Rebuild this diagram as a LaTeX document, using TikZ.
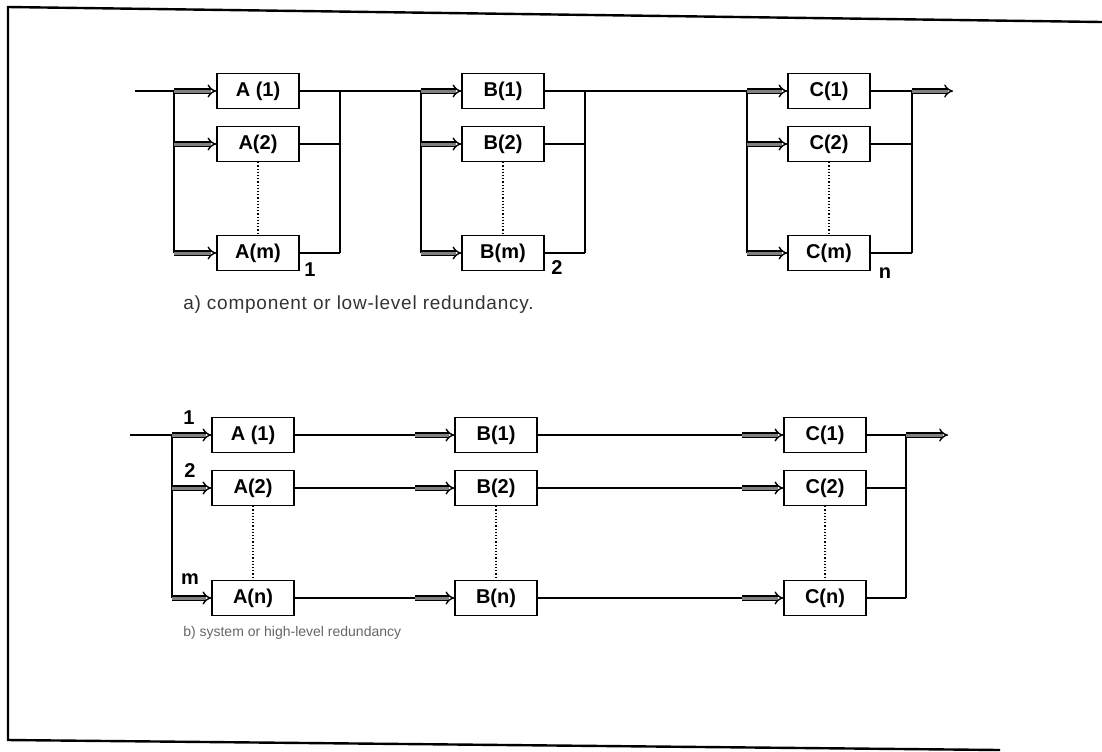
\documentclass[tikz,border=0pt]{standalone}
\usepackage{fontspec}
\setmainfont{Liberation Sans}
\usetikzlibrary{arrows.meta}

\begin{document}
\begin{tikzpicture}[x=0.5pt, y=-0.5pt, line width=0.6pt,
  unit/.style={draw, minimum width=41pt, minimum height=17.5pt, inner sep=0pt,
    font=\bfseries\fontsize{10}{12}\selectfont},
  feed/.style={double=black!50, double distance=1.5pt, line width=0.7pt,
    -{Implies[length=3pt]}},
  tag/.style={font=\bfseries\fontsize{10}{12}\selectfont},
  caption/.style={anchor=west, text=black!80,
    font=\fontsize{9.5}{11}\selectfont\addfontfeatures{LetterSpace=4}},
  ellip/.style={densely dotted}]

\useasboundingbox (0,0) rectangle (1102,751);

% frame of the scanned page
\draw[line width=1.2pt] (1102,22) -- (8,7) -- (8,740) -- (1000,750);

% a) component or low-level redundancy
\node[unit] (aA1) at (258,91) {A (1)};
\node[unit] (aA2) at (258,144) {A(2)};
\node[unit] (aA3) at (258,253) {A(m)};
\node[unit] (aB1) at (503,91) {B(1)};
\node[unit] (aB2) at (503,144) {B(2)};
\node[unit] (aB3) at (503,253) {B(m)};
\node[unit] (aC1) at (829,91) {C(1)};
\node[unit] (aC2) at (829,144) {C(2)};
\node[unit] (aC3) at (829,253) {C(m)};

\node[tag] (stage1) at (310,270) {1};
\node[tag] (stage2) at (557,268) {2};
\node[tag] (stagen) at (885,273) {n};

\coordinate (start) at (135,91);
\coordinate (inA) at (174,0);
\coordinate (outA) at (340,0);
\coordinate (inB) at (421,0);
\coordinate (outB) at (585,0);
\coordinate (inC) at (747,0);
\coordinate (outC) at (912,0);
\coordinate (stop) at (953,91);

\draw (start) -- (aA1.west -| inA);
\foreach \g in {A,B,C} {
  \draw (a\g1.west -| in\g) -- (a\g3.west -| in\g);
  \draw (a\g1.east -| out\g) -- (a\g3.east -| out\g);
  \foreach \r in {1,2,3} {
    \draw (a\g\r.east) -- (a\g\r.east -| out\g);
    \draw[feed] (a\g\r.west -| in\g) -- (a\g\r.west);
  }
  \draw[ellip] (a\g2.south) -- (a\g3.north);
}
\draw (aA1.east -| outA) -- (aB1.west -| inB);
\draw (aB1.east -| outB) -- (aC1.west -| inC);
\draw[feed] (aC1.east -| outC) -- (stop);

\node[caption] (capa) at (176,305) {a) component or low-level redundancy.};

% b) system or high-level redundancy
\node[unit] (bA1) at (253,435) {A (1)};
\node[unit] (bA2) at (253,488) {A(2)};
\node[unit] (bA3) at (253,598) {A(n)};
\node[unit] (bB1) at (496,435) {B(1)};
\node[unit] (bB2) at (496,488) {B(2)};
\node[unit] (bB3) at (496,598) {B(n)};
\node[unit] (bC1) at (825,435) {C(1)};
\node[unit] (bC2) at (825,488) {C(2)};
\node[unit] (bC3) at (825,598) {C(n)};

\node[tag] (chain1) at (189,418) {1};
\node[tag] (chain2) at (190,471) {2};
\node[tag] (chainm) at (190,579) {m};

\coordinate (startb) at (130,435);
\coordinate (inb) at (172,0);
\coordinate (midAB) at (415,0);
\coordinate (midBC) at (742,0);
\coordinate (outb) at (906,0);
\coordinate (stopb) at (948,435);

\draw (startb) -- (bA1.west -| inb) -- (bA3.west -| inb);
\draw (bC1.east -| outb) -- (bC3.east -| outb);
\foreach \r in {1,2,3} {
  \draw (bA\r.east) -- (bA\r.east -| midAB);
  \draw (bB\r.east) -- (bB\r.east -| midBC);
  \draw (bC\r.east) -- (bC\r.east -| outb);
  \draw[feed] (bA\r.west -| inb) -- (bA\r.west);
  \draw[feed] (bA\r.east -| midAB) -- (bB\r.west);
  \draw[feed] (bB\r.east -| midBC) -- (bC\r.west);
}
\foreach \g in {A,B,C}
  \draw[ellip] (b\g2.south) -- (b\g3.north);
\draw[feed] (bC1.east -| outb) -- (stopb);

\node[caption, text=black!60, font=\fontsize{7}{8}\selectfont]
  (capb) at (176,633) {b) system or high-level redundancy};

\end{tikzpicture}
\end{document}
